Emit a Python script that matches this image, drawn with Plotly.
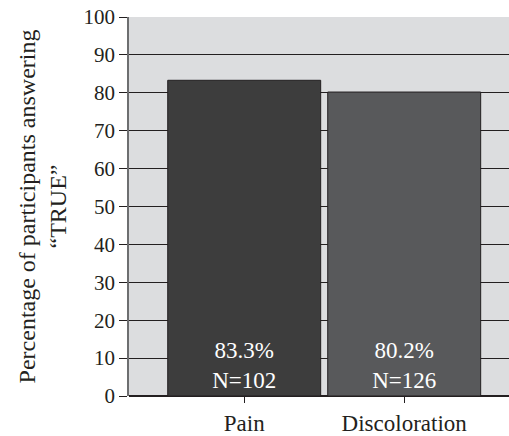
import plotly.graph_objects as go

categories = ["Pain", "Discoloration"]
percentages = [83.3, 80.2]
counts = [102, 126]
bar_colors = ["#3d3d3d", "#58595b"]
y_ticks = [0, 10, 20, 30, 40, 50, 60, 70, 80, 90, 100]

labels = [f"{p:.1f}%<br>N={n}" for p, n in zip(percentages, counts)]

FONT = "Liberation Serif"

fig = go.Figure()
fig.add_trace(go.Bar(
    x=categories,
    y=percentages,
    width=0.956,
    marker=dict(color=bar_colors, line=dict(color="#231f20", width=1)),
    text=labels,
    textposition="inside",
    insidetextanchor="start",
    textangle=0,
    textfont=dict(family=FONT, size=23, color="white"),
    showlegend=False,
))

fig.update_layout(
    width=509,
    height=436,
    margin=dict(l=129, r=0, t=17, b=36),
    paper_bgcolor="white",
    plot_bgcolor="#dcdddf",
    font=dict(family=FONT, size=21, color="#231f20"),
    xaxis=dict(
        range=[-0.72, 1.655],
        showgrid=False,
        ticks="outside",
        ticklen=6,
        tickcolor="#231f20",
        showline=False,
        tickfont=dict(size=23),
    ),
    yaxis=dict(
        range=[0, 100],
        tickvals=y_ticks,
        showgrid=True,
        gridcolor="#231f20",
        gridwidth=1.3,
        ticks="outside",
        ticklen=8,
        tickcolor="#231f20",
        showline=True,
        linecolor="#6d6e70",
        linewidth=1.5,
        zeroline=True,
        zerolinecolor="#231f20",
        zerolinewidth=1.5,
        tickfont=dict(size=21),
        title=dict(text="Percentage of participants answering<br>“TRUE”",
                   font=dict(size=24), standoff=10),
    ),
)

fig.write_html("out.html", config={"displayModeBar": False},
               post_script="document.body.style.margin='0';")
